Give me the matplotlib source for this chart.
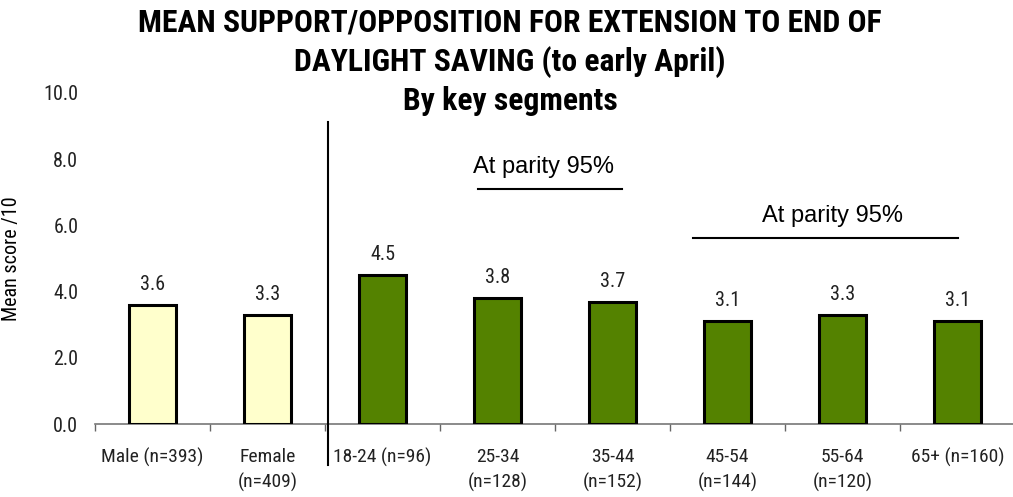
import matplotlib
matplotlib.use("Agg")
import matplotlib.pyplot as plt
from matplotlib import font_manager as fm

# ---- data ----
categories = ["Male (n=393)", "Female\n(n=409)", "18-24 (n=96)", "25-34\n(n=128)",
              "35-44\n(n=152)", "45-54\n(n=144)", "55-64\n(n=120)", "65+ (n=160)"]
values = [3.6, 3.3, 4.5, 3.8, 3.7, 3.1, 3.3, 3.1]
value_labels = ["3.6", "3.3", "4.5", "3.8", "3.7", "3.1", "3.3", "3.1"]
groups = ["gender", "gender", "age", "age", "age", "age", "age", "age"]
yticks = [0, 2, 4, 6, 8, 10]
ytick_labels = ["0.0", "2.0", "4.0", "6.0", "8.0", "10.0"]
parity_text = "At parity 95%"
title_lines = ["MEAN SUPPORT/OPPOSITION FOR EXTENSION TO END OF",
               "DAYLIGHT SAVING (to early April)",
               "By key segments"]
ylabel = "Mean score /10"

names = {f.name for f in fm.fontManager.ttflist}
def pick(cands):
    for c in cands:
        if c in names:
            return c
    return "DejaVu Sans"
narrow = pick(["Roboto Condensed", "Archivo Narrow", "PT Sans Narrow", "Liberation Sans"])
regular = pick(["Liberation Sans", "Arimo", "DejaVu Sans"])

colors = {"gender": "#FFFFCC", "age": "#548200"}

fig = plt.figure(figsize=(10.13, 4.97), dpi=100)
ax = fig.add_axes([95 / 1013, 73 / 497, 920 / 1013, 331 / 497])

x = list(range(len(categories)))
ax.bar(x, values, width=0.41, color=[colors[g] for g in groups],
       edgecolor="black", linewidth=2.2, zorder=3)
for xi, v, lab in zip(x, values, value_labels):
    ax.text(xi, v + 0.33, lab, ha="center", va="bottom", fontsize=14.5,
            family=narrow, color="#222222")

ax.set_xlim(-0.5, len(categories) - 0.5)
ax.set_ylim(0, 10)
ax.set_yticks(yticks)
ax.set_yticklabels(ytick_labels, family=narrow, fontsize=14.5, color="#222222")
ax.tick_params(axis="y", length=0, pad=12)
ax.set_xticks(x)
ax.set_xticklabels(categories, family=narrow, fontsize=14, linespacing=1.5,
                   color="#222222")
ax.tick_params(axis="x", length=0, pad=17)
# minor ticks at category boundaries
ax.set_xticks([i - 0.5 for i in range(len(categories) + 1)], minor=True)
ax.tick_params(axis="x", which="minor", length=5, color="#666666", width=1, direction="out")

for s in ["top", "right", "left"]:
    ax.spines[s].set_visible(False)
ax.spines["bottom"].set_color("#777777")
ax.spines["bottom"].set_linewidth(1.2)

ax.set_ylabel(ylabel, family=narrow, fontsize=14.5)
ax.yaxis.set_label_coords(-0.08, 0.5)

# divider line between gender and age segments
ax.plot([1.53, 1.53], [9.12, -1.24], color="black", lw=1.5, clip_on=False, zorder=4)

# parity annotations
ax.plot([2.83, 4.08], [7.1, 7.1], color="black", lw=1.5, clip_on=False)
ax.text(3.40, 7.76, parity_text, ha="center", va="center", fontsize=17, family=regular)
ax.plot([4.7, 7.0], [5.62, 5.62], color="black", lw=1.5, clip_on=False)
ax.text(5.91, 6.28, parity_text, ha="center", va="center", fontsize=17, family=regular)

# title
title_y = [475, 435, 396]
for line, yy in zip(title_lines, title_y):
    fig.text(510 / 1013, yy / 497, line, ha="center", va="center",
             fontsize=22.8, fontweight="bold", family=narrow)

fig.savefig("out.png", dpi=100)
